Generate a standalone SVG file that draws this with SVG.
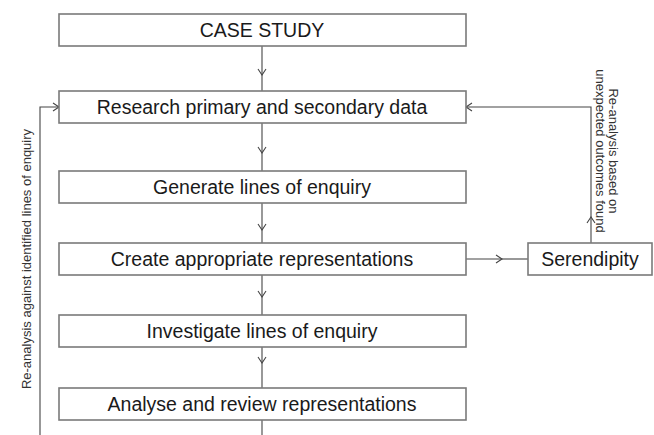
<svg xmlns="http://www.w3.org/2000/svg" width="654" height="435" viewBox="0 0 654 435">
<style>
.box{fill:#fff;stroke:#7a7a7a;stroke-width:1.6}
.lbl{font-family:"Liberation Sans",Arial,sans-serif;font-size:19.5px;fill:#1a1a1a;text-anchor:middle}
.side{font-family:"Liberation Sans",Arial,sans-serif;font-size:13px;fill:#333;text-anchor:middle}
.ln{fill:none;stroke:#444;stroke-width:1.1}
.ar{marker-end:url(#ah)}
</style>
<defs>
<marker id="ah" markerUnits="userSpaceOnUse" viewBox="-8 -5 10 10" refX="0" refY="0" markerWidth="10" markerHeight="10" orient="auto" overflow="visible">
<path d="M-6,-4 L0,0 L-6,4" fill="none" stroke="#444" stroke-width="1.1"/>
</marker>
</defs>
<rect width="654" height="435" fill="#fff"/>
<g id="connectors">
<line class="ln ar" x1="262" y1="46" x2="262" y2="75"/><line class="ln" x1="262" y1="75" x2="262" y2="91"/>
<line class="ln ar" x1="262" y1="123" x2="262" y2="153"/><line class="ln" x1="262" y1="153" x2="262" y2="171"/>
<line class="ln ar" x1="262" y1="203" x2="262" y2="230"/><line class="ln" x1="262" y1="230" x2="262" y2="243"/>
<line class="ln ar" x1="262" y1="275" x2="262" y2="297"/><line class="ln" x1="262" y1="297" x2="262" y2="315"/>
<line class="ln ar" x1="262" y1="347" x2="262" y2="363"/><line class="ln" x1="262" y1="363" x2="262" y2="388"/>
<line class="ln" x1="262" y1="420" x2="262" y2="436"/>
<polyline class="ln ar" points="40,436 40,107 59,107"/>
<line class="ln ar" x1="466" y1="259" x2="502" y2="259"/><line class="ln" x1="502" y1="259" x2="528" y2="259"/>
<line class="ln ar" x1="591" y1="243" x2="591" y2="217"/><polyline class="ln ar" points="591,217 591,107 466,107"/>
<text class="side" transform="translate(31,259) rotate(-90)">Re-analysis  against identified lines of enquiry</text>
<text class="side" transform="translate(609,151) rotate(90)">Re-analysis  based on</text>
<text class="side" transform="translate(596,151) rotate(90)">unexpected outcomes found</text>
</g>
<g id="case-study"><rect class="box" x="59" y="14" width="407" height="32"/><text class="lbl" x="262" y="37">CASE STUDY</text></g>
<g id="research"><rect class="box" x="59" y="91" width="407" height="32"/><text class="lbl" x="262" y="114">Research primary and secondary data</text></g>
<g id="generate"><rect class="box" x="59" y="171" width="407" height="32"/><text class="lbl" x="262" y="194">Generate lines of enquiry</text></g>
<g id="create"><rect class="box" x="59" y="243" width="407" height="32"/><text class="lbl" x="262" y="266">Create appropriate representations</text></g>
<g id="investigate"><rect class="box" x="59" y="315" width="407" height="32"/><text class="lbl" x="262" y="338">Investigate lines of enquiry</text></g>
<g id="analyse"><rect class="box" x="59" y="388" width="407" height="32"/><text class="lbl" x="262" y="411">Analyse and review representations</text></g>
<g id="serendipity"><rect class="box" x="528" y="243" width="124" height="32"/><text class="lbl" x="590" y="266">Serendipity</text></g>
</svg>
